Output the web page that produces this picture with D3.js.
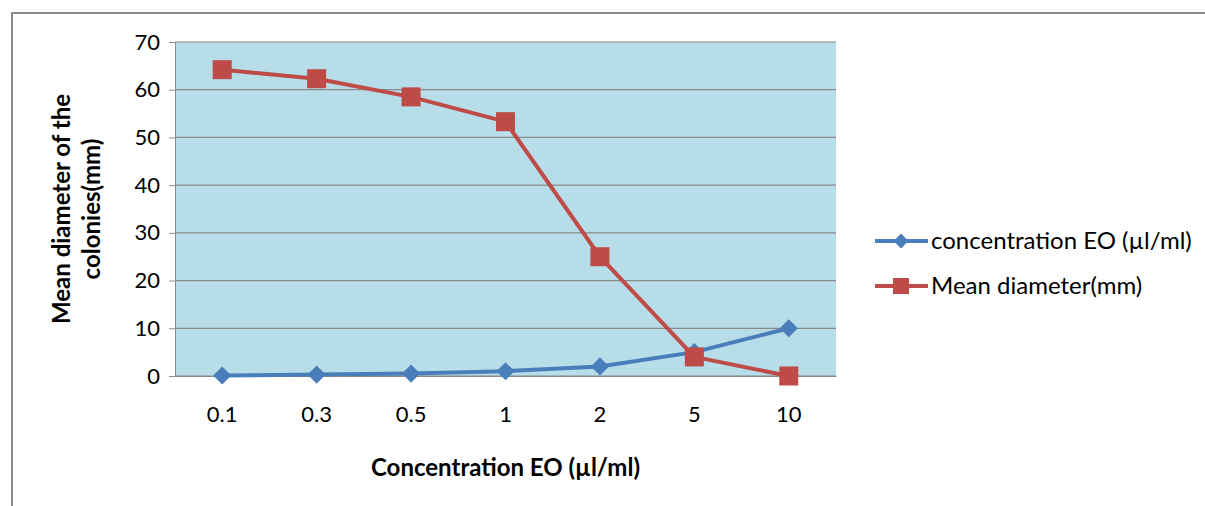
<!DOCTYPE html>
<html>
<head>
<meta charset="utf-8">
<script src="https://cdn.jsdelivr.net/npm/d3@7"></script>
<style>
  body { margin: 0; background: #fff; }
  text { font-family: Lato, "Open Sans", sans-serif; fill: #000; }
</style>
</head>
<body>
<div id="chart"></div>
<script>
// categories on the x axis
var categories = ["0.1", "0.3", "0.5", "1", "2", "5", "10"];
// series values
var concentration = [0.1, 0.3, 0.5, 1, 2, 5, 10];
var meanDiameter = [64.2, 62.3, 58.5, 53.3, 25, 4, 0];
var yTicks = [0, 10, 20, 30, 40, 50, 60, 70];
var seriesNames = ["concentration EO (\u00b5l/ml)", "Mean diameter(mm)"];

var W = 1205, H = 506;
var margin = {left: 175, top: 42, right: 369, bottom: 130};
var width = W - margin.left - margin.right;
var height = H - margin.top - margin.bottom;

var svg = d3.select("#chart")
    .append("svg")
    .attr("width", W)
    .attr("height", H);

// outer frame
svg.append("rect")
    .attr("x", 12).attr("y", 13)
    .attr("width", W + 10).attr("height", H + 10)
    .attr("fill", "none")
    .attr("stroke", "#8c8c8c")
    .attr("stroke-width", 2);

var g = svg.append("g")
    .attr("transform", "translate(" + margin.left + "," + margin.top + ")");

var x = d3.scaleBand()
    .domain(categories)
    .range([0, width]);

var y = d3.scaleLinear()
    .domain([0, 70])
    .range([height, 0]);

// plot background
g.append("rect")
    .attr("width", width)
    .attr("height", height)
    .attr("fill", "#b7dde8");

// gridlines
g.append("g").selectAll("line")
    .data(yTicks)
    .enter()
    .append("line")
    .attr("x1", 0).attr("x2", width)
    .attr("y1", function(d) { return y(d); })
    .attr("y2", function(d) { return y(d); })
    .attr("stroke", "#8a8a8a")
    .attr("stroke-width", 1.2);

// y axis
var yAxis = g.append("g")
    .call(d3.axisLeft(y).tickValues(yTicks).tickSize(6).tickPadding(9));
yAxis.select(".domain").attr("stroke", "#8a8a8a");
yAxis.selectAll(".tick line").attr("stroke", "#8a8a8a");
yAxis.selectAll("text").attr("font-size", 22).attr("fill", "#000");

// x axis
var xAxis = g.append("g")
    .attr("transform", "translate(0," + height + ")")
    .call(d3.axisBottom(x).tickSize(0).tickPadding(30));
xAxis.select(".domain").attr("stroke", "#8a8a8a").attr("stroke-width", 1.2);
xAxis.selectAll("text").attr("font-size", 22).attr("fill", "#000");

// axis titles
svg.append("text")
    .attr("x", margin.left + width / 2)
    .attr("y", 476)
    .attr("text-anchor", "middle")
    .attr("font-size", 24)
    .attr("font-weight", "bold")
    .text("Concentration EO (\u00b5l/ml)");

var yt = svg.append("text")
    .attr("transform", "translate(0,209) rotate(-90)")
    .attr("text-anchor", "middle")
    .attr("font-size", 24)
    .attr("font-weight", "bold");
yt.append("tspan").attr("x", 0).attr("y", 70).text("Mean diameter of the");
yt.append("tspan").attr("x", 0).attr("y", 100).text("colonies(mm)");

var cx = function(i) { return x(categories[i]) + x.bandwidth() / 2; };

var line = d3.line()
    .x(function(d, i) { return cx(i); })
    .y(function(d) { return y(d); });

var blue = "#4a7ebb", red = "#be4b48";
var diamond = d3.symbol().type(d3.symbolSquare).size(165);

// concentration series
g.append("path")
    .datum(concentration)
    .attr("d", line)
    .attr("fill", "none")
    .attr("stroke", blue)
    .attr("stroke-width", 4)
    .attr("stroke-linejoin", "round");
g.append("g").selectAll("path")
    .data(concentration)
    .enter()
    .append("path")
    .attr("d", diamond)
    .attr("transform", function(d, i) { return "translate(" + cx(i) + "," + y(d) + ") rotate(45)"; })
    .attr("fill", blue);

// mean diameter series
g.append("path")
    .datum(meanDiameter)
    .attr("d", line)
    .attr("fill", "none")
    .attr("stroke", red)
    .attr("stroke-width", 4)
    .attr("stroke-linejoin", "round");
g.append("g").selectAll("rect")
    .data(meanDiameter)
    .enter()
    .append("rect")
    .attr("x", function(d, i) { return cx(i) - 9.5; })
    .attr("y", function(d) { return y(d) - 9.5; })
    .attr("width", 19).attr("height", 19)
    .attr("fill", red);

// legend
var legend = svg.append("g").attr("transform", "translate(875,241)");
var rows = legend.selectAll("g")
    .data(seriesNames)
    .enter()
    .append("g")
    .attr("transform", function(d, i) { return "translate(0," + (i * 45) + ")"; });
rows.append("line")
    .attr("x1", 0).attr("x2", 53)
    .attr("stroke", function(d, i) { return i === 0 ? blue : red; })
    .attr("stroke-width", 4);
rows.filter(function(d, i) { return i === 0; })
    .append("path")
    .attr("d", d3.symbol().type(d3.symbolSquare).size(110))
    .attr("transform", "translate(26,0) rotate(45)")
    .attr("fill", blue);
rows.filter(function(d, i) { return i === 1; })
    .append("rect")
    .attr("x", 18).attr("y", -8).attr("width", 16).attr("height", 16)
    .attr("fill", red);
rows.append("text")
    .attr("x", 56)
    .attr("y", 8)
    .attr("font-size", 24)
    .text(function(d) { return d; });
</script>
</body>
</html>
